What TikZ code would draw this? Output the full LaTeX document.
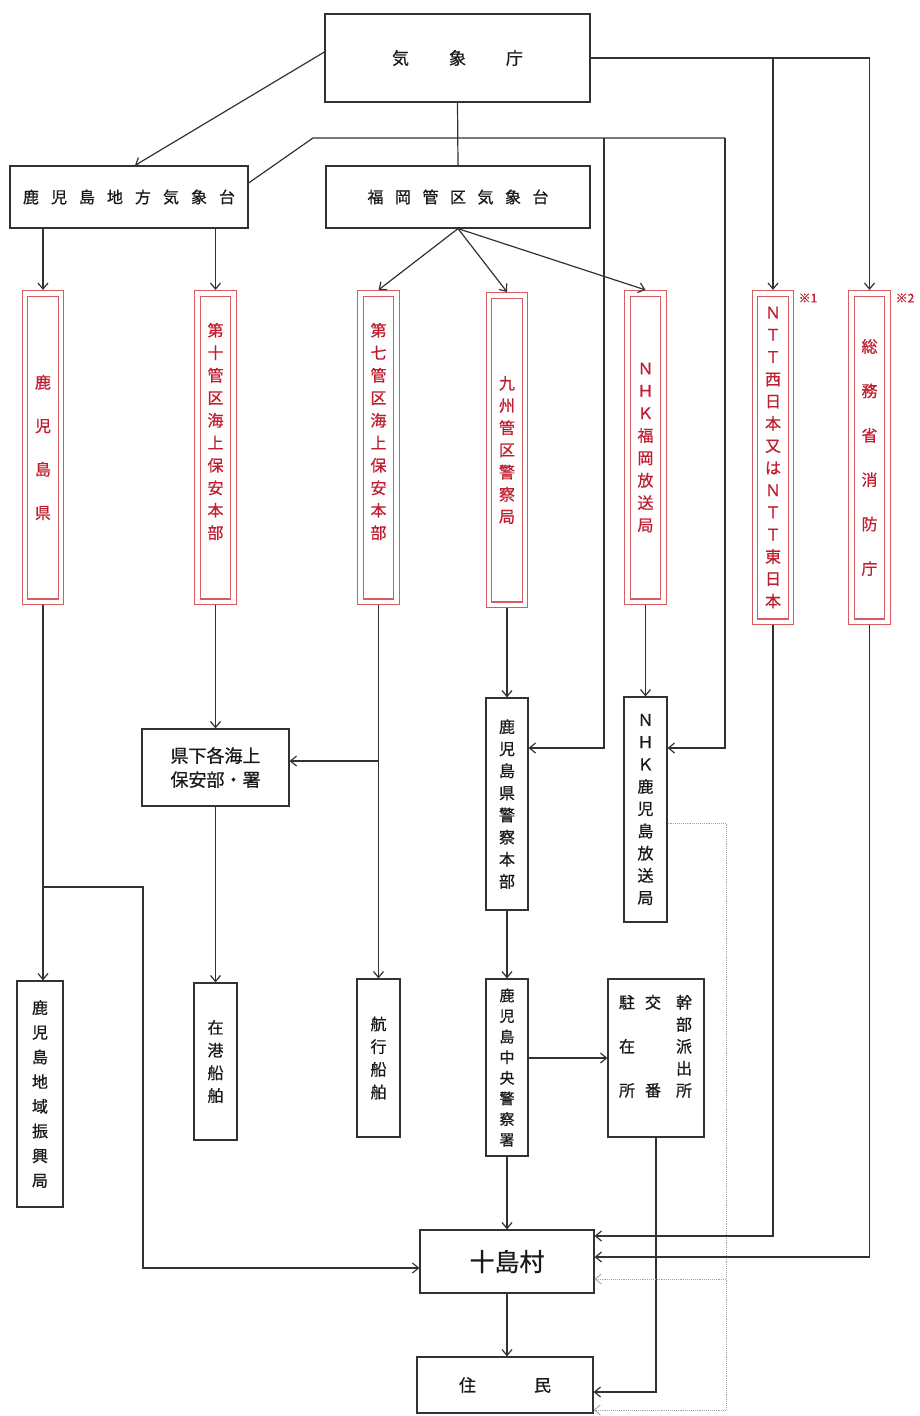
\documentclass[tikz,border=0pt]{standalone}
\usepackage{fontspec}
\newfontfamily\jp[FakeBold=0.7]{Noto Sans CJK JP}
\usetikzlibrary{arrows.meta,calc}

\definecolor{linegray}{RGB}{50,50,50}
\definecolor{boxred}{RGB}{214,92,96}
\definecolor{textred}{RGB}{192,30,48}
\definecolor{dotgray}{RGB}{165,165,165}
% vertical text: size and line distance
\newcommand{\vfont}[2]{\jp\fontsize{#1}{#2}\selectfont}

\begin{document}
\begin{tikzpicture}[x=1pt,y=-1pt,
  box/.style={draw=linegray,line width=1.2pt,inner sep=0pt,text=black!90,align=center},
  redbox/.style={draw=boxred,double=white,double distance=4.5pt,line width=1.1pt,outer sep=3.3pt,inner sep=0pt,text=textred,align=center},
  vtext/.style={inner sep=0pt,align=center},
  link/.style={draw=linegray,line width=1.2pt},
  dotlink/.style={draw=dotgray,line width=0.9pt,densely dotted},
  arr/.style={-{Straight Barb[length=6pt,width=10pt]}},
  note/.style={text=textred,inner sep=0pt,font=\vfont{12}{14}}
]
\useasboundingbox (0,0) rectangle (920,1416);

% Top row
\node[box,minimum width=265pt,minimum height=88pt,font=\vfont{17}{20}] (jma) at (457.5,58) {気\hspace{40pt}象\hspace{40pt}庁};
\node[box,minimum width=238pt,minimum height=62pt,font=\vfont{16}{20}] (kmo) at (129,197)
  {鹿\hspace{12pt}児\hspace{12pt}島\hspace{12pt}地\hspace{12pt}方\hspace{12pt}気\hspace{12pt}象\hspace{12pt}台};
\node[box,minimum width=264pt,minimum height=62pt,font=\vfont{16}{20}] (fdmo) at (458,197)
  {福\hspace{11.5pt}岡\hspace{11.5pt}管\hspace{11.5pt}区\hspace{11.5pt}気\hspace{11.5pt}象\hspace{11.5pt}台};

% Red boxes
\node[redbox,minimum width=36pt,minimum height=308.5pt,font=\vfont{16}{43.5}] (pref) at (43,447.5) {鹿\\児\\島\\県};
\node[redbox,minimum width=36pt,minimum height=308.5pt] (cg10) at (215.5,447.5) {};
\node[vtext,text=textred,font=\vfont{16}{22.5}] (cg10-txt) at (215.5,431.5) {第\\十\\管\\区\\海\\上\\保\\安\\本\\部};
\node[redbox,minimum width=36pt,minimum height=308.5pt] (cg7) at (378.5,447.5) {};
\node[vtext,text=textred,font=\vfont{16}{22.5}] (cg7-txt) at (378.5,431.5) {第\\七\\管\\区\\海\\上\\保\\安\\本\\部};
\node[redbox,minimum width=36pt,minimum height=309.5pt,font=\vfont{16}{22.2}] (kpol) at (507,450) {九\\州\\管\\区\\警\\察\\局};
\node[redbox,minimum width=36pt,minimum height=308.5pt,font=\vfont{16}{22.4}] (nhkf) at (645.5,447.5) {Ｎ\\Ｈ\\Ｋ\\福\\岡\\放\\送\\局};
\node[redbox,minimum width=36pt,minimum height=328.5pt,font=\vfont{16}{22.2}] (ntt) at (773,457.5) {Ｎ\\Ｔ\\Ｔ\\西\\日\\本\\又\\は\\Ｎ\\Ｔ\\Ｔ\\東\\日\\本};
\node[redbox,minimum width=36pt,minimum height=328.5pt,font=\vfont{16}{44.4}] (fdma) at (869.5,457.5) {総\\務\\省\\消\\防\\庁};
\node[note] (ntt-note) at (808,298) {※1};
\node[note] (fdma-note) at (905,298) {※2};

% Middle boxes
\node[box,minimum width=147pt,minimum height=77pt,font=\vfont{18}{24}] (cgoff) at (215.5,767.5) {県下各海上\\保安部・署};
\node[box,minimum width=42pt,minimum height=212pt,font=\vfont{16}{22.1}] (kppol) at (507,804) {鹿\\児\\島\\県\\警\\察\\本\\部};
\node[box,minimum width=43pt,minimum height=225pt,font=\vfont{16}{22.25}] (nhkk) at (645.5,809.5) {Ｎ\\Ｈ\\Ｋ\\鹿\\児\\島\\放\\送\\局};

% Bottom boxes
\node[box,minimum width=46pt,minimum height=226pt,font=\vfont{16}{24.7}] (rdb) at (40,1094) {鹿\\児\\島\\地\\域\\振\\興\\局};
\node[box,minimum width=43pt,minimum height=157pt,font=\vfont{16}{22.7}] (port) at (215.5,1061.5) {在\\港\\船\\舶};
\node[box,minimum width=43pt,minimum height=158pt,font=\vfont{16}{22.7}] (sea) at (378.5,1058) {航\\行\\船\\舶};
\node[box,minimum width=42pt,minimum height=177pt,font=\vfont{15}{20.6}] (cpol) at (507,1067.5) {鹿\\児\\島\\中\\央\\警\\察\\署};
\node[box,minimum width=96pt,minimum height=158pt] (koban) at (656,1058) {};
\node[vtext,text=black!90,font=\vfont{16}{22}] (koban-txt) at (655.5,1048)
  {\begin{tabular}{@{}c@{\hspace{10pt}}c@{\hspace{15pt}}c@{}}駐&交&幹\\&&部\\在&&派\\&&出\\所&番&所\end{tabular}};
\node[box,minimum width=174pt,minimum height=63pt,font=\vfont{25}{28}] (toshima) at (507,1261.5) {十島村};
\node[box,minimum width=176pt,minimum height=56pt,font=\vfont{17}{20}] (res) at (505,1385) {住\hspace{58pt}民};

% From JMA
\draw[link,arr] ([yshift=6pt]jma.west) -- ([xshift=6pt]kmo.north);
\draw[link] (jma.south) -- (fdmo.north);
\draw[link,arr] (jma.east) -| (fdma.north);
\draw[link,arr] (jma.east -| ntt.north) -- (ntt.north);

% From Fukuoka
\foreach \t in {cg7,kpol,nhkf}
  \draw[link,arr] (fdmo.south) -- (\t.north);

% From Kagoshima observatory
\foreach \t in {pref,cg10}
  \draw[link,arr] (kmo.south -| \t.north) -- (\t.north);
\draw[link] ([yshift=14pt]kmo.east) -- (313,138) -- (725,138) coordinate (kmo-r);
\coordinate (kmo-m) at (604,138);
\draw[link,arr] (kmo-r) |- ([yshift=61.5pt]nhkk.east);
\draw[link,arr] (kmo-m) |- ([yshift=56pt]kppol.east);

% Prefecture
\draw[link,arr] (pref.south) -- (pref.south |- rdb.north);
\coordinate (pref-br) at (43,887);
\draw[link,arr] (pref-br) -- (143,887) |- ([yshift=-6.5pt]toshima.west);

% Coast guard
\draw[link,arr] (cg10.south) -- (cgoff.north);
\draw[link,arr] (cg7.south) -- (sea.north);
\coordinate (cg7-br) at (378.5,761);
\draw[link,arr] (cg7-br) -- (cg7-br -| cgoff.east);
\draw[link,arr] (cgoff.south) -- (port.north);

% Police
\draw[link,arr] (kpol.south) -- (kppol.north);
\draw[link,arr] (kppol.south) -- (cpol.north);
\draw[link,arr] (cpol.east |- koban.west) -- (koban.west);
\draw[link,arr] (cpol.south) -- (toshima.north);
\draw[link,arr] (koban.south) |- ([yshift=-7pt]res.east);

% NHK
\draw[link,arr] (nhkf.south) -- (nhkk.north);
\draw[dotlink] ([yshift=-13.5pt]nhkk.east) -| (726,1410) coordinate (dot-end);
\draw[dotlink,arr] (dot-end) -- (dot-end -| res.east);
\coordinate (dot-mid) at (726,1279);
\draw[dotlink,arr] (dot-mid) -- (dot-mid -| toshima.east);

% NTT, FDMA
\draw[link,arr] (ntt.south) |- ([yshift=25.5pt]toshima.east);
\draw[link,arr] (fdma.south) |- ([yshift=4.5pt]toshima.east);

% Village to residents
\draw[link,arr] (toshima.south) -- (toshima.south |- res.north);
\end{tikzpicture}
\end{document}
